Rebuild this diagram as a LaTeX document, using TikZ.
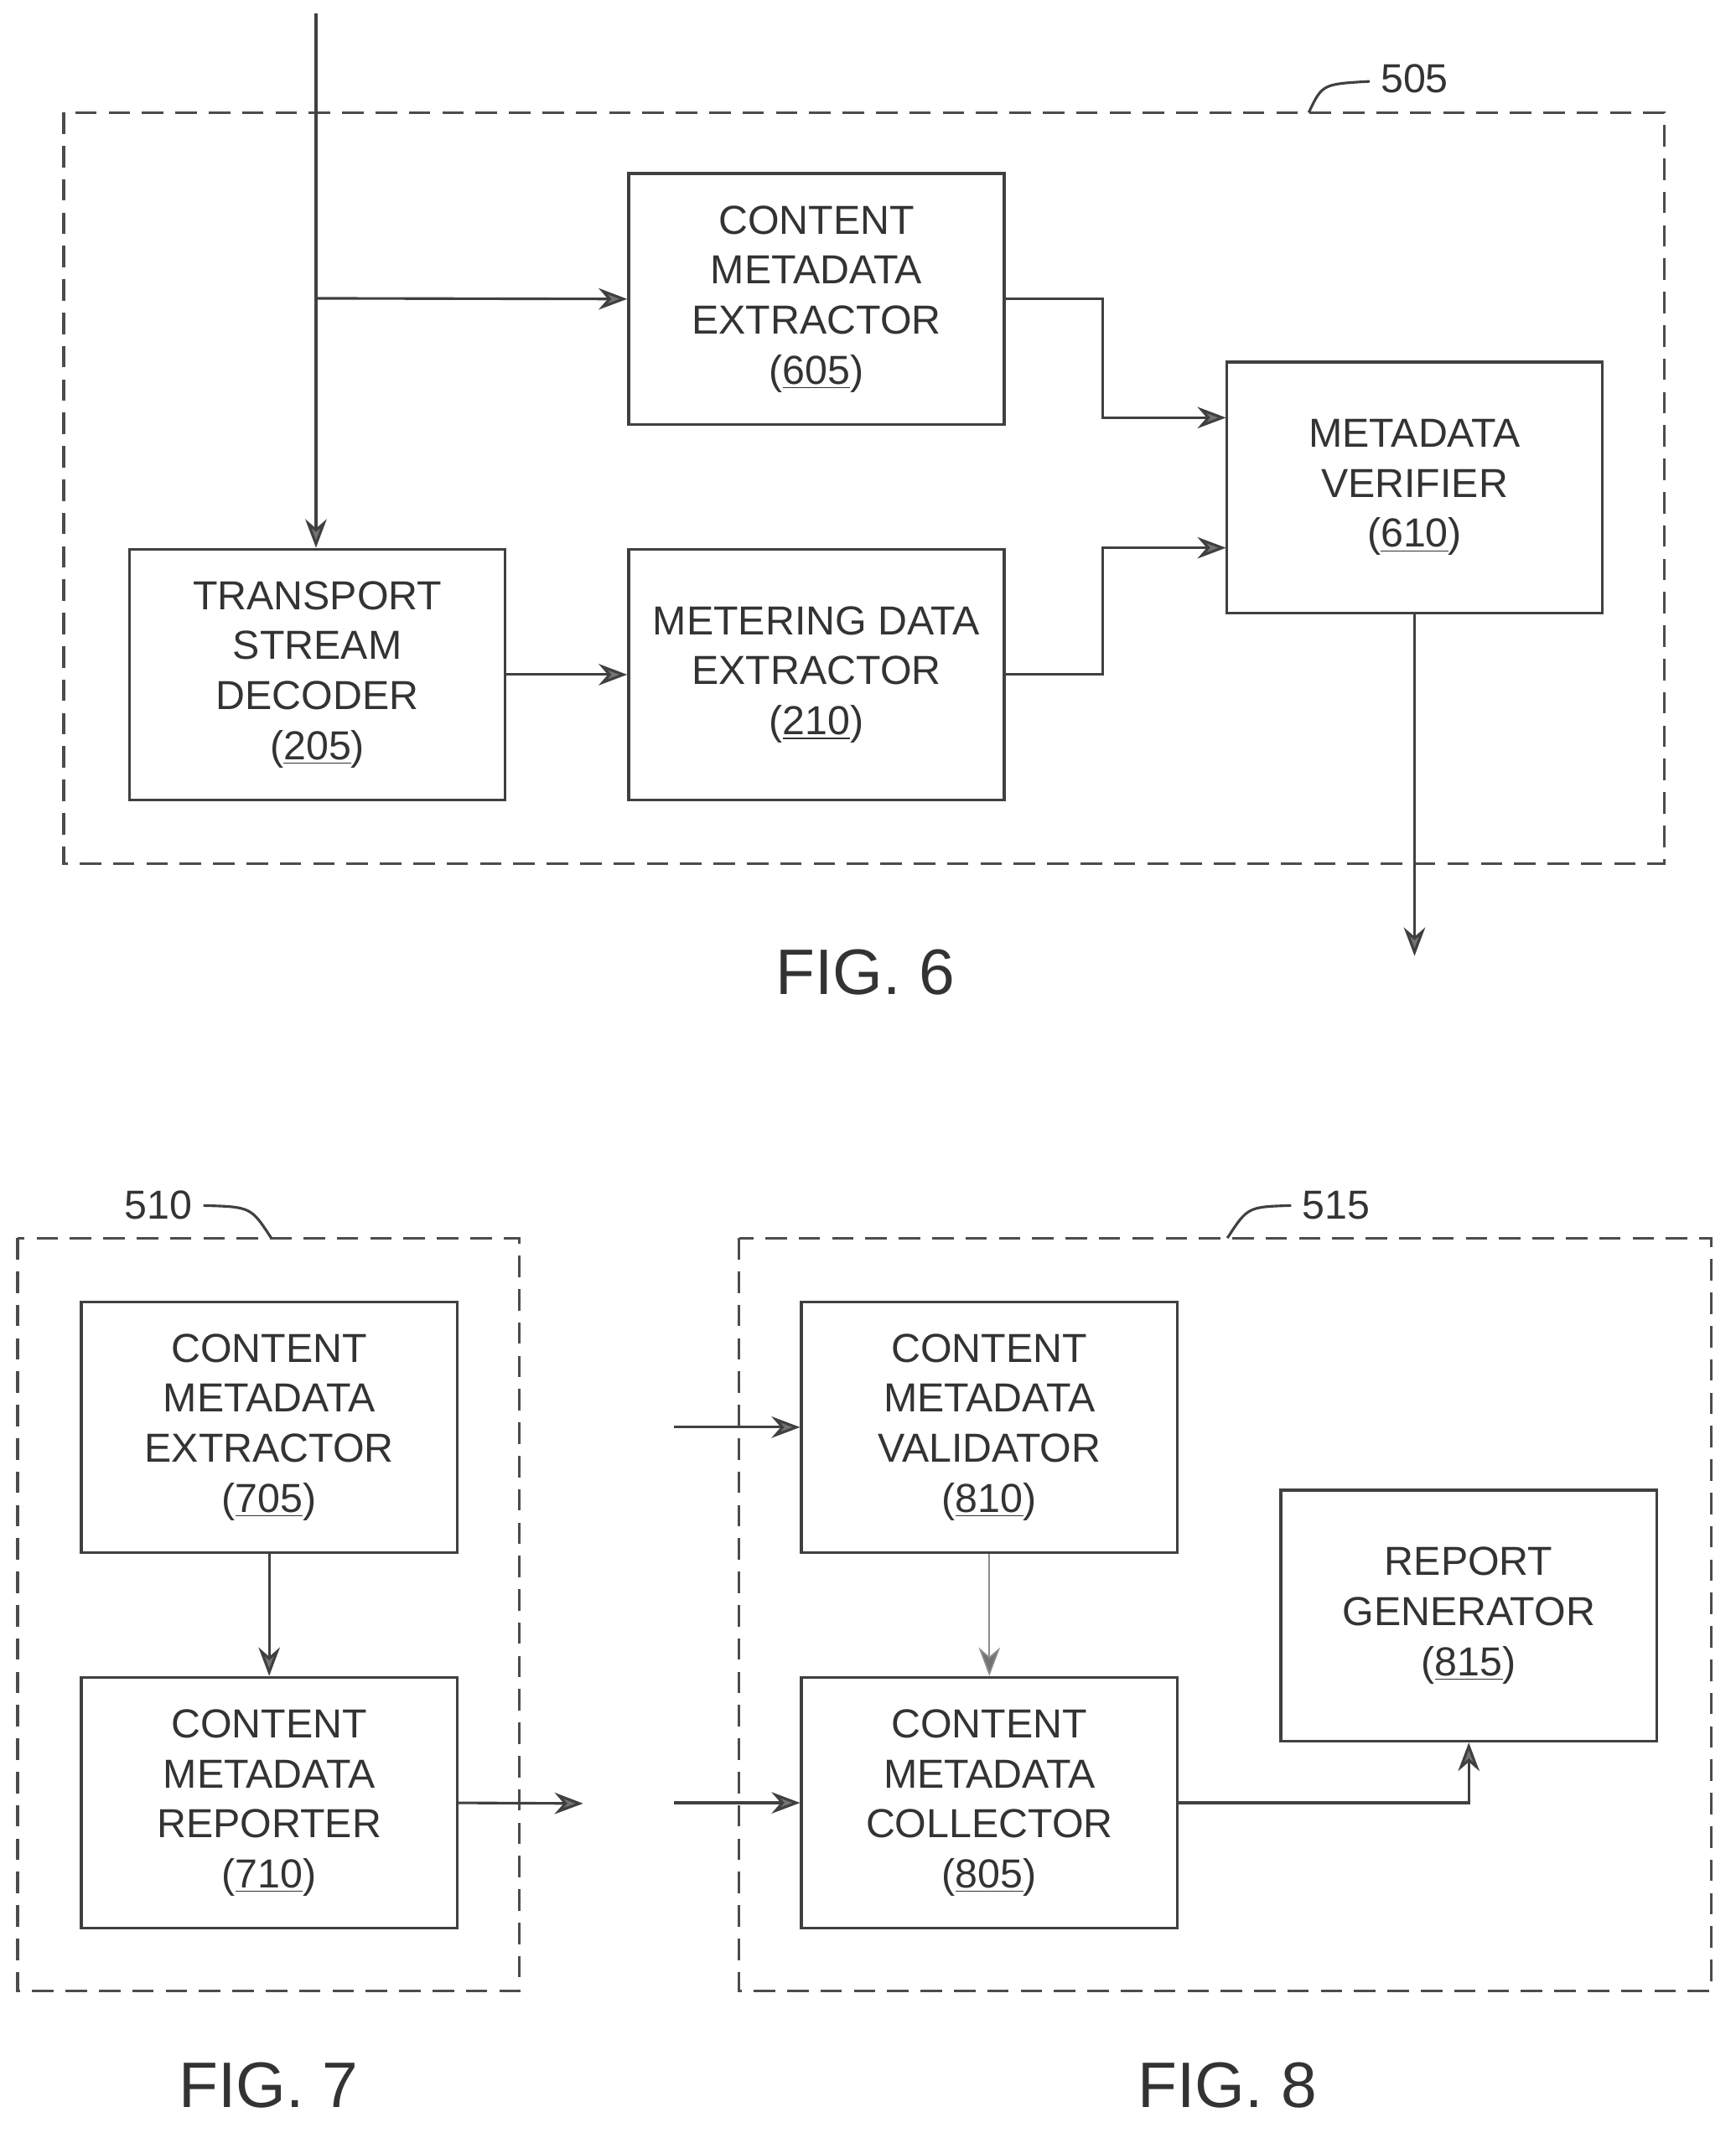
\documentclass[tikz,border=0pt]{standalone}
\usepackage{fontspec}
\setmainfont{Liberation Sans}
\usetikzlibrary{arrows.meta}
\begin{document}
\begin{tikzpicture}[x=0.02cm,y=-0.02cm,
  every node/.style={font=\fontsize{17}{21}\selectfont, text=black!80},
  box/.style={draw=black!75, line width=1.2pt, minimum width=277*0.02cm, minimum height=185*0.02cm, align=center, inner sep=0pt},
  dbox/.style={draw=black!70, line width=1.1pt, dash pattern=on 9pt off 5pt},
  arr/.style={draw=black!75, line width=1.1pt, -{Stealth[length=12pt,width=9pt,fill=black!55]}},
  ln/.style={draw=black!75, line width=1.1pt},
  fig/.style={font=\fontsize{27}{30}\selectfont}]
\useasboundingbox (0,0) rectangle (1280,1573);
% FIG 6
\draw[dbox] (47,83) rectangle (1227,637);
\node (l505) at (1043,58) {505};
\draw[ln] (965,83) .. controls (975,62) .. (1010,60);
\node[box] (cme) at (602,220.5) {CONTENT\\METADATA\\EXTRACTOR\\(\underline{605})};
\node[box] (tsd) at (234,497.5) {TRANSPORT\\STREAM\\DECODER\\(\underline{205})};
\node[box] (mde) at (602,497.5) {METERING DATA\\EXTRACTOR\\(\underline{210})};
\node[box] (mv) at (1043,359.5) {METADATA\\VERIFIER\\(\underline{610})};
\coordinate (in) at (233,10);
\coordinate (br) at (233,220);
\coordinate (out) at (1043,705);
\draw[arr] (in) -- (tsd.north -| in);
\draw[arr] (br) -- (cme.west);
\draw[arr] (tsd.east) -- (mde.west);
\draw[arr] (cme.east) -- (813,220.5) |- (904,308);
\draw[arr] (mde.east) -- (813,497.5) |- (904,404);
\draw[arr] (mv.south) -- (out);
\node[fig] (f6) at (638,717) {FIG. 6};
% FIG 7
\draw[dbox] (13,913) rectangle (383,1468);
\node (l510) at (117,889) {510};
\draw[ln] (150,889) .. controls (185,890) .. (200,913);
\node[box] (c705) at (198.5,1052.5) {CONTENT\\METADATA\\EXTRACTOR\\(\underline{705})};
\node[box] (c710) at (198.5,1329.5) {CONTENT\\METADATA\\REPORTER\\(\underline{710})};
\draw[arr] (c705) -- (c710);
\coordinate (o7) at (430,1330);
\draw[arr] (c710.east) -- (o7);
\node[fig] (f7) at (198,1538) {FIG. 7};
% FIG 8
\draw[dbox] (545,913) rectangle (1262,1468);
\node (l515) at (985,889) {515};
\draw[ln] (905,913) .. controls (920,890) .. (952,889);
\node[box] (c810) at (729.5,1052.5) {CONTENT\\METADATA\\VALIDATOR\\(\underline{810})};
\node[box] (c805) at (729.5,1329.5) {CONTENT\\METADATA\\COLLECTOR\\(\underline{805})};
\node[box] (c815) at (1083,1191.5) {REPORT\\GENERATOR\\(\underline{815})};
\coordinate (i1) at (497,1052.5);
\coordinate (i2) at (497,1329.5);
\draw[arr] (i1) -- (c810.west);
\draw[arr] (i2) -- (c805.west);
\draw[arr, draw=black!45, line width=0.6pt] (c810) -- (c805);
\draw[arr] (c805.east) -| (c815.south);
\node[fig] (f8) at (905,1538) {FIG. 8};
\end{tikzpicture}
\end{document}
